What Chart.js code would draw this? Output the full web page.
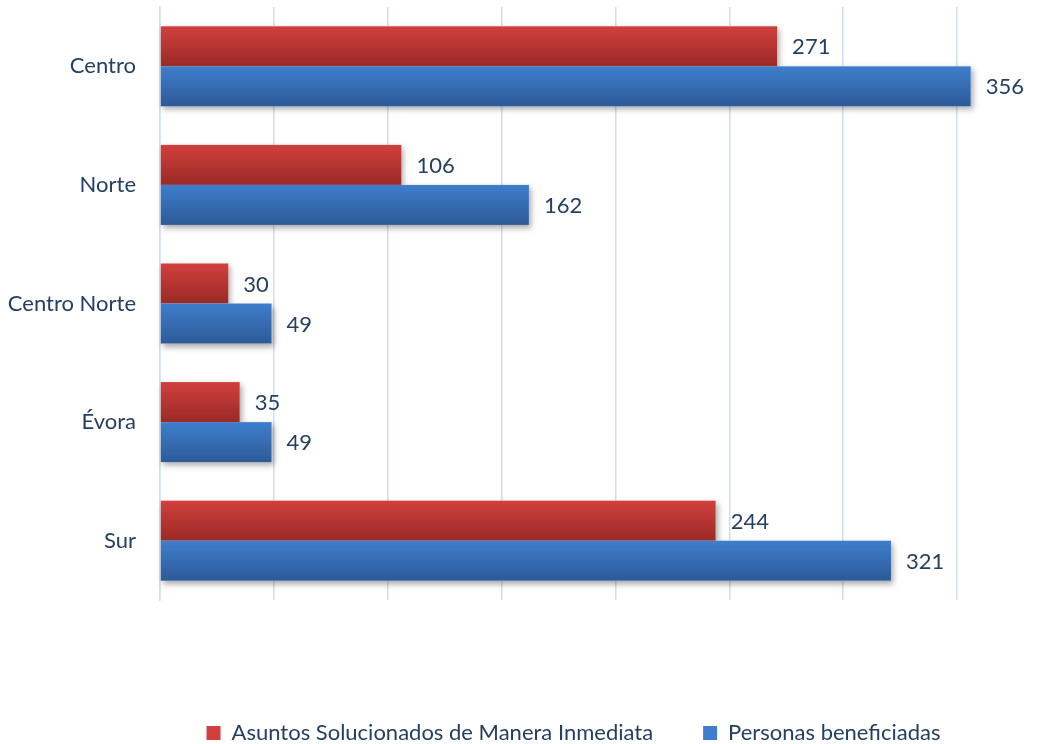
<!DOCTYPE html>
<html>
<head>
<meta charset="utf-8">
<script src="https://cdn.jsdelivr.net/npm/chart.js@4.4.0/dist/chart.umd.min.js"></script>
<style>
  html, body { margin: 0; padding: 0; background: #fff; }
  #wrap { width: 1059px; height: 744px; }
</style>
</head>
<body>
<div id="wrap"><canvas id="chart"></canvas></div>
<script>
// Datos del gráfico
const regiones = ['Centro', 'Norte', 'Centro Norte', 'Évora', 'Sur'];
const asuntosSolucionados = [271, 106, 30, 35, 244];
const personasBeneficiadas = [356, 162, 49, 49, 321];
const nombresSeries = ['Asuntos Solucionados de Manera Inmediata', 'Personas beneficiadas'];

const textoColor = '#243F60';
const fuente = 'Lato';
const tamFuente = 22;

// colores de las barras (arriba -> abajo)
const rojoGrad = ['#D1403D', '#9A2926'];
const azulGrad = ['#3E7ECC', '#2D5A98'];

// dibuja las barras con degradado y sombra, y los valores al final
const barrasPlugin = {
    id: 'barras',
    afterLayout(chart) {
        // mover la leyenda un poco (como en el original)
        if (chart.legend) {
            chart.legend.left += 54;
            chart.legend.right += 54;
            chart.legend.top += 10;
            chart.legend.bottom += 10;
        }
    },
    afterDatasetsDraw(chart) {
        const ctx = chart.ctx;
        const grads = [rojoGrad, azulGrad];
        const todas = [];
        chart.data.datasets.forEach((ds, di) => {
            chart.getDatasetMeta(di).data.forEach((el, i) => {
                todas.push({ el, di, valor: ds.data[i] });
            });
        });

        // sombras primero
        ctx.save();
        ctx.shadowColor = 'rgba(0,0,0,0.35)';
        ctx.shadowBlur = 6;
        ctx.shadowOffsetX = 2;
        ctx.shadowOffsetY = 3;
        ctx.fillStyle = '#ffffff';
        todas.forEach(({ el }) => {
            const top = el.y - el.height / 2;
            ctx.fillRect(el.base, top, el.x - el.base, el.height);
        });
        ctx.restore();

        // barras con degradado
        todas.forEach(({ el, di }) => {
            const top = el.y - el.height / 2;
            const g = ctx.createLinearGradient(0, top, 0, top + el.height);
            g.addColorStop(0, grads[di][0]);
            g.addColorStop(1, grads[di][1]);
            ctx.fillStyle = g;
            ctx.fillRect(el.base, top, el.x - el.base, el.height);
        });

        // etiquetas de valor
        ctx.save();
        ctx.fillStyle = textoColor;
        ctx.font = tamFuente + 'px ' + fuente;
        ctx.textAlign = 'left';
        ctx.textBaseline = 'middle';
        todas.forEach(({ el, valor }) => {
            ctx.fillText(String(valor), el.x + 15, el.y + 1);
        });
        ctx.restore();
    }
};

window.addEventListener('load', function () {
    const canvas = document.getElementById('chart');
    new Chart(canvas, {
        type: 'bar',
        data: {
            labels: regiones,
            datasets: [{
                label: nombresSeries[0],
                data: asuntosSolucionados,
                backgroundColor: 'rgba(0,0,0,0)',
                categoryPercentage: 0.675,
                barPercentage: 1
            }, {
                label: nombresSeries[1],
                data: personasBeneficiadas,
                backgroundColor: 'rgba(0,0,0,0)',
                categoryPercentage: 0.675,
                barPercentage: 1
            }]
        },
        options: {
            indexAxis: 'y',
            responsive: true,
            maintainAspectRatio: false,
            animation: false,
            layout: { padding: { top: 7, right: 20, left: 0, bottom: 0 } },
            plugins: {
                tooltip: { enabled: false },
                legend: {
                    position: 'bottom',
                    labels: {
                        font: { family: fuente, size: tamFuente },
                        color: textoColor,
                        boxWidth: 14,
                        boxHeight: 14,
                        padding: 50,
                        generateLabels(chart) {
                            const cols = [rojoGrad[0], azulGrad[0]];
                            return chart.data.datasets.map((ds, i) => ({
                                text: ds.label,
                                fillStyle: cols[i],
                                strokeStyle: cols[i],
                                lineWidth: 0,
                                fontColor: textoColor,
                                datasetIndex: i
                            }));
                        }
                    }
                }
            },
            scales: {
                x: {
                    min: 0,
                    max: 386,
                    afterBuildTicks(scale) {
                        scale.ticks = scale.ticks.filter(t => t.value % 50 === 0);
                    },
                    afterFit(scale) {
                        const leg = scale.chart.legend ? scale.chart.legend.height : 0;
                        scale.height = 744 - 600 - leg;
                        scale.paddingLeft = 0;
                        scale.paddingRight = 0;
                    },
                    ticks: { display: false, stepSize: 50 },
                    grid: { color: '#D0DEF1', lineWidth: 1.5, drawTicks: false },
                    border: { display: false }
                },
                y: {
                    afterFit(scale) {
                        scale.width = 160;
                        scale.paddingTop = 0;
                        scale.paddingBottom = 0;
                    },
                    ticks: {
                        font: { family: fuente, size: tamFuente },
                        color: textoColor,
                        padding: 16
                    },
                    grid: { display: false },
                    border: { color: '#D0DEF1', width: 1.5 }
                }
            }
        },
        plugins: [barrasPlugin]
    });
});
</script>
</body>
</html>
